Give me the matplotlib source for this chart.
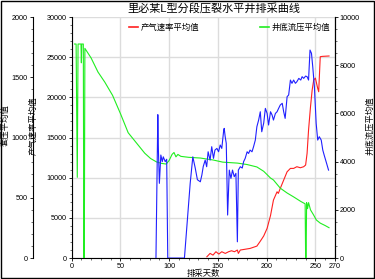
import matplotlib.pyplot as plt
from matplotlib.ticker import MultipleLocator
from matplotlib.patches import Rectangle

plt.rcParams['font.family'] = ['Liberation Sans', 'Noto Sans CJK SC', 'DejaVu Sans']
plt.rcParams['axes.unicode_minus'] = False

# 产气速率平均值 (left inner axis, 0-30000)
gas_days = [138.7, 142, 145, 148, 151, 154, 157.6, 161, 164, 167, 170, 171, 173, 183, 190,
            193.5, 197, 200.5, 204, 207, 210.7, 212, 214, 217.5, 221, 224.4, 227.7, 231,
            234.6, 238, 240, 241.5, 243, 245, 246.7, 248.3, 250, 252.4, 253.4, 255, 257, 264]
gas_rate = [160, 580, 370, 790, 500, 790, 580, 790, 910, 790, 1000, 580, 1000, 1200, 1490,
            2100, 2750, 3700, 5300, 7220, 8250, 8050, 8670, 9710, 10740, 11160, 11160, 11370,
            11240, 11370, 11580, 13040, 15930, 18830, 20910, 22160, 22400, 21120, 20700,
            25060, 25100, 25150]

# 井底流压平均值 (right axis, 0-10000)
bhp_days = [3, 4.6, 5.0, 5.8, 6.6, 9.6, 10.0, 10.4, 12.0, 12.5, 13.0, 13.6, 20, 27, 34, 42,
            50, 58, 63, 70, 75, 81, 87, 92, 97, 100, 103, 105, 107, 109, 112, 120, 132, 145,
            155, 170, 180, 190, 197, 204, 207, 214, 221, 228, 235, 239.5, 240, 240.5, 241,
            242, 243, 245, 248, 251, 255, 260, 264]
bhp = [8880, 8880, 7000, 3350, 8880, 8880, 8100, 8880, 8880, 0, 0, 8700, 8300, 7720, 7300,
       6750, 6000, 5200, 4950, 4600, 4350, 4130, 3990, 3930, 3900, 4050, 4300, 4380, 4200,
       4300, 4220, 4180, 4150, 4070, 3980, 3940, 3880, 3780, 3600, 3320, 3240, 2900, 2700,
       2530, 2350, 2250, 0, 0, 2300, 2050, 2300, 2000, 1800, 1580, 1450, 1350, 1260]

# 套压平均值 (outer left axis, 0-2000)
casing_days = [86.5, 88.4, 89, 90, 91.5, 93, 94, 96, 97.5, 98.6, 115.7, 121.6, 124.3, 126.7,
               129, 132, 133.6, 135, 137, 138.5, 140, 142, 143.7, 145.5, 147, 149, 150.7,
               152.4, 154, 156, 156.5, 157.5, 158.6, 160, 161.7, 163.4, 165, 166.8, 168.5,
               170, 171, 173, 175, 176.4, 178, 180, 181.5, 183, 185, 186.6, 188.4, 190,
               191.8, 193.5, 195, 197, 198.7, 200.5, 202, 204, 205.6, 207, 209, 210.7, 212.3,
               214, 216, 217.5, 219, 221, 222.6, 224.4, 226, 227.7, 229.5, 231, 233, 235,
               236.4, 238, 240, 241.5, 243, 244.5, 246, 247.3, 249, 250.8, 252.4, 254, 256,
               257.6, 259, 261.5, 263.5]
casing = [0, 1190, 900, 620, 855, 800, 840, 800, 820, 0, 0, 620, 840, 750,
          650, 633, 690, 760, 813, 758, 882, 813, 924, 827, 896, 910, 882,
          938, 910, 1062, 1076, 1007, 952, 357, 730, 661, 730, 675, 703,
          135, 730, 758, 747, 800, 827, 882, 868, 896, 882, 924, 979, 1090,
          1145, 1214, 1048, 1120, 1242, 1200, 1104, 1214, 1187, 1145, 1200, 1214, 1242,
          1270, 1284, 1214, 1159, 1339, 1353, 1477, 1450, 1477, 1450, 1463, 1491, 1477,
          1505, 1491, 1510, 1505, 1477, 1726, 1699, 1588, 1422, 1118, 979, 1007, 979,
          896, 855, 786, 730]

fig = plt.figure(figsize=(3.75, 2.79), dpi=100)
ax = fig.add_axes([0.191, 0.075, 0.702, 0.864])
ax_r = ax.twinx()
ax_o = ax.twinx()

fs = 5.2
red_line, = ax.plot(gas_days, gas_rate, color='#ff2020', lw=0.8)
green_line, = ax_r.plot(bhp_days, bhp, color='#20ee20', lw=0.8)
ax_o.plot(casing_days, casing, color='#2020ff', lw=0.8)

ax.set_xlim(0, 270)
ax.set_ylim(0, 30000)
ax_r.set_ylim(0, 10000)
ax_o.set_ylim(0, 2000)

ax.set_xticks([0, 50, 100, 150, 200, 250, 270])
ax.xaxis.set_minor_locator(MultipleLocator(10))
ax.yaxis.set_major_locator(MultipleLocator(5000))
ax.yaxis.set_minor_locator(MultipleLocator(1000))
ax_r.yaxis.set_major_locator(MultipleLocator(2000))
ax_r.yaxis.set_minor_locator(MultipleLocator(500))
ax_o.yaxis.set_major_locator(MultipleLocator(500))
ax_o.yaxis.set_minor_locator(MultipleLocator(100))

ax.grid(True, which='major', color='#dcdcdc', lw=1.0)
ax.set_axisbelow(True)

# outer left axis for casing pressure
ax_o.spines['left'].set_position(('outward', 28))
ax_o.spines['left'].set_visible(True)
ax_o.yaxis.set_ticks_position('left')
ax_o.yaxis.set_label_position('left')
for a in (ax, ax_r, ax_o):
    a.spines['top'].set_visible(False)
ax_o.spines['right'].set_visible(False)
ax_o.spines['bottom'].set_visible(False)
ax_r.spines['left'].set_visible(False)
ax_r.spines['bottom'].set_visible(False)

for a in (ax, ax_r, ax_o):
    a.tick_params(which='major', labelsize=fs, length=2.5, width=0.6, pad=1)
    a.tick_params(which='minor', length=1.5, width=0.4)
    for s in a.spines.values():
        s.set_linewidth(0.8)

ax.set_xlabel('排采天数', fontsize=6, labelpad=0)
ax.set_ylabel('产气速率平均值', fontsize=6)
ax_r.set_ylabel('井底流压平均值', fontsize=6)
ax_o.set_ylabel('套压平均值', fontsize=6)
ax.yaxis.set_label_coords(-0.128, 0.55)
ax_o.yaxis.set_label_coords(-0.237, 0.55)
ax_r.yaxis.set_label_coords(1.118, 0.55)

fig.text(0.57, 0.97, '里必某L型分段压裂水平井排采曲线', ha='center', va='center', fontsize=8)

fig.legend([red_line], ['产气速率平均值'], loc='center left',
           bbox_to_anchor=(0.344, 0.90), frameon=False, fontsize=6,
           handlelength=1.1, handletextpad=0.25, borderpad=0, borderaxespad=0)
fig.legend([green_line], ['井底流压平均值'], loc='center left',
           bbox_to_anchor=(0.693, 0.90), frameon=False, fontsize=6,
           handlelength=1.1, handletextpad=0.25, borderpad=0, borderaxespad=0)
for lg in fig.legends:
    for ln in lg.get_lines():
        ln.set_linewidth(1.2)

fig.patches.append(Rectangle((0.002, 0.003), 0.995, 0.994, transform=fig.transFigure,
                             fill=False, edgecolor='black', lw=1.0))

fig.savefig('out.png', dpi=100)
